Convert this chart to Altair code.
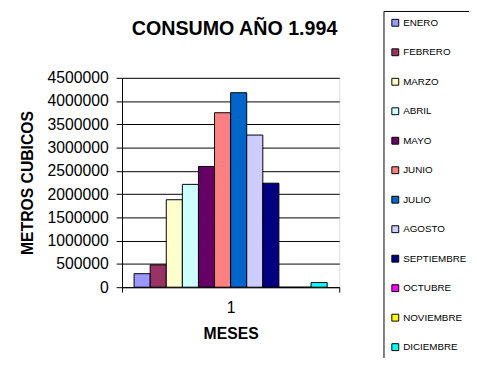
import altair as alt
import pandas as pd

meses = ["ENERO", "FEBRERO", "MARZO", "ABRIL", "MAYO", "JUNIO", "JULIO",
         "AGOSTO", "SEPTIEMBRE", "OCTUBRE", "NOVIEMBRE", "DICIEMBRE"]
valores = [290000, 480000, 1880000, 2210000, 2595000, 3750000, 4180000,
           3270000, 2235000, 0, 0, 100000]
colores = ["#9999FF", "#993366", "#FFFFCC", "#CCFFFF", "#660066", "#FF8080",
           "#0066CC", "#CCCCFF", "#000080", "#FF00FF", "#FFFF00", "#00FFFF"]
categoria = "1"
y_ticks = [0, 500000, 1000000, 1500000, 2000000, 2500000, 3000000,
           3500000, 4000000, 4500000]

df = pd.DataFrame({"mes": meses, "valor": valores, "cat": [categoria] * len(meses)})

FONT = "Liberation Sans"

chart = alt.Chart(df).mark_bar(stroke="black", strokeWidth=1).encode(
    x=alt.X("cat:N", title="MESES",
            scale=alt.Scale(paddingInner=0, paddingOuter=0),
            axis=alt.Axis(labelAngle=0, tickBand="extent", tickSize=5,
                          labelPadding=8, titlePadding=10,
                          domainColor="black", tickColor="black",
                          labelFont=FONT, labelFontSize=16, labelColor="black",
                          titleFont=FONT, titleFontSize=16, titleFontWeight="bold",
                          titleColor="black", grid=False)),
    xOffset=alt.XOffset("mes:N", sort=meses,
                        scale=alt.Scale(domain=meses, paddingInner=0, paddingOuter=0.75)),
    y=alt.Y("valor:Q", title="METROS CUBICOS",
            scale=alt.Scale(domain=[0, 4500000], nice=False),
            axis=alt.Axis(values=y_ticks, format="d", tickSize=6, labelPadding=8,
                          titlePadding=12, domainColor="black", tickColor="black",
                          gridColor="black", gridWidth=1, grid=True,
                          labelFont=FONT, labelFontSize=16, labelColor="black",
                          titleFont=FONT, titleFontSize=16, titleFontWeight="bold",
                          titleColor="black")),
    color=alt.Color("mes:N", sort=meses,
                    scale=alt.Scale(domain=meses, range=colores),
                    legend=alt.Legend(orient="none", legendX=266, legendY=-68,
                                      title=None, strokeColor="black", fillColor="white",
                                      padding=7, rowPadding=18, labelOffset=3,
                                      symbolType="square", symbolSize=49,
                                      symbolStrokeColor="black", symbolStrokeWidth=1,
                                      labelFont=FONT,
                                      labelFontSize=10, labelColor="black")),
).properties(
    width=221, height=213,
    title=alt.TitleParams("CONSUMO AÑO 1.994", font=FONT, fontSize=20,
                          fontWeight="bold", color="black", anchor="middle",
                          dx=4, dy=29, offset=0),
    autosize=alt.AutoSizeParams(type="none"),
    padding={"left": 116, "top": 68, "right": 132, "bottom": 69},
).configure_view(
    fill="#C0C0C0", stroke="#808080", strokeWidth=1
).configure(background="white")

chart.save("out.html", embed_options={"renderer": "svg", "actions": False})
